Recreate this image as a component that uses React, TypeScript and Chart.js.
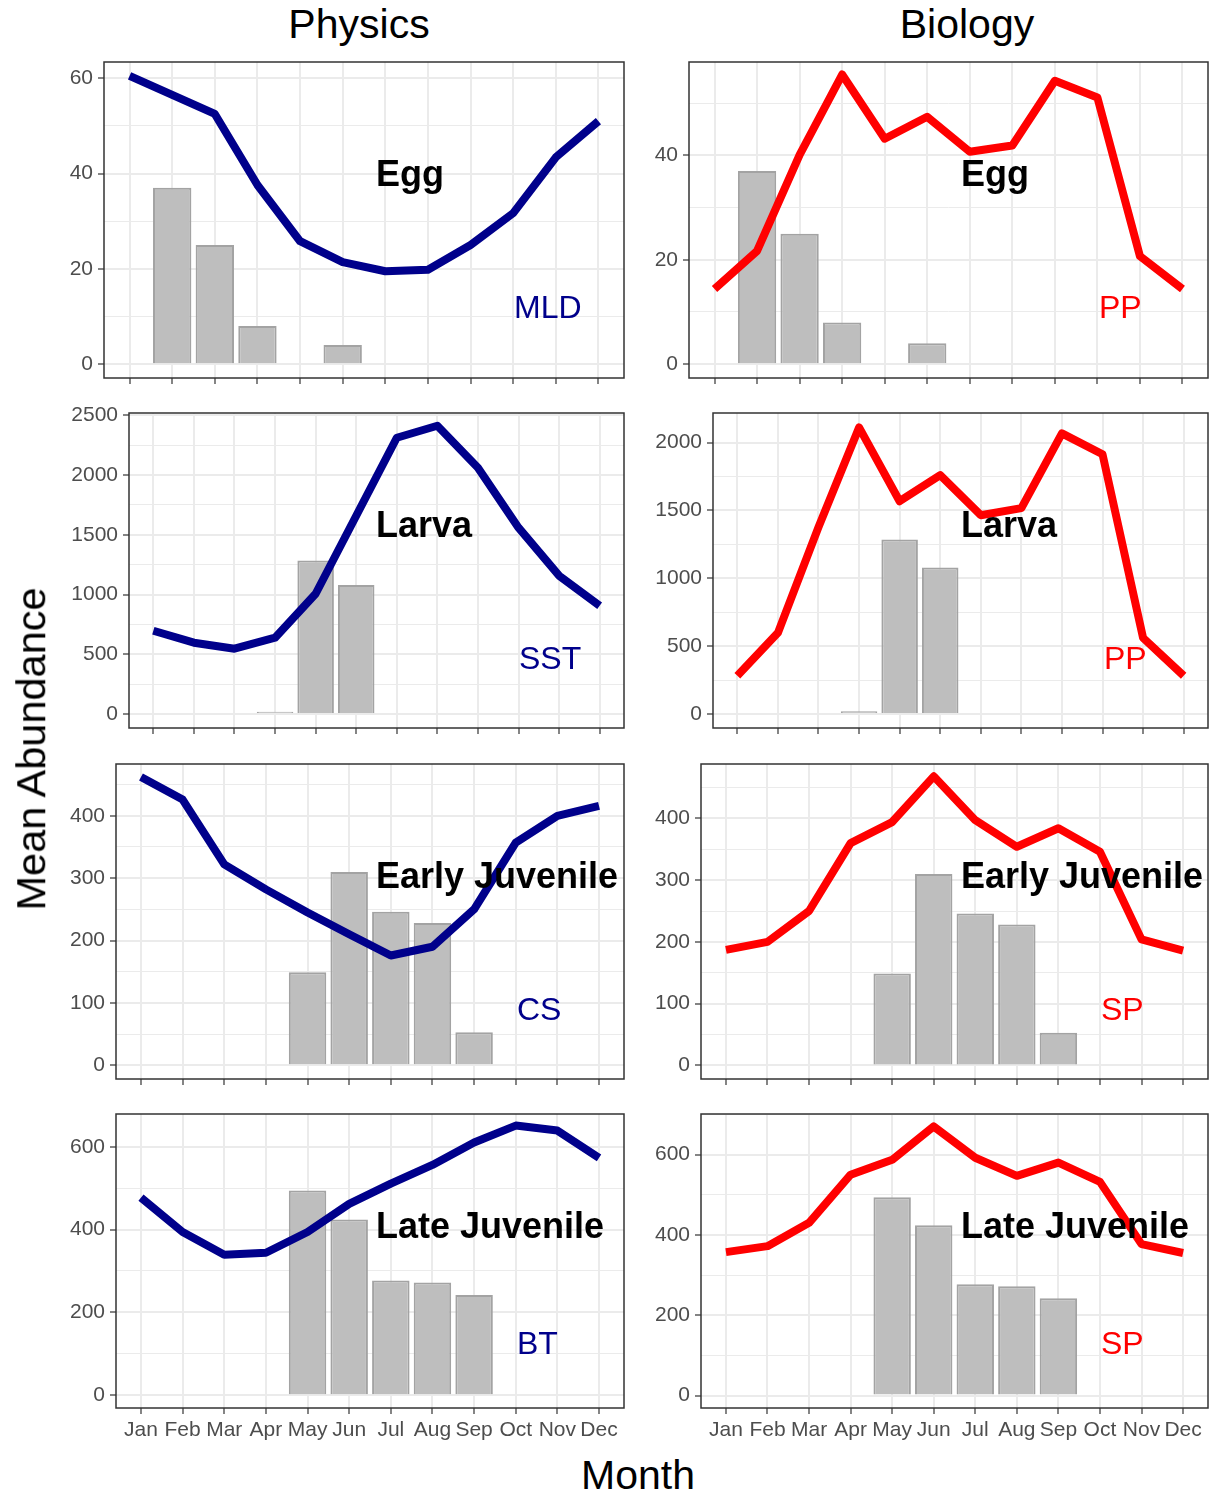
import React, { useEffect, useRef } from 'react';
import { Chart, registerables } from 'chart.js';

Chart.register(...registerables);

const FONT = '"Liberation Sans", Arial, Helvetica, sans-serif';
Chart.defaults.font.family = FONT;

// ---------- data ----------
const MONTHS = ['Jan', 'Feb', 'Mar', 'Apr', 'May', 'Jun', 'Jul', 'Aug', 'Sep', 'Oct', 'Nov', 'Dec'];
const MONTH_NUM = [1, 2, 3, 4, 5, 6, 7, 8, 9, 10, 11, 12];

// environmental drivers (lines)
const MLD = [60.5, 56.5, 52.5, 37.6, 25.8, 21.4, 19.5, 19.8, 25.0, 31.7, 43.4, 51.0];
const PP_EGG = [14.4, 21.7, 40.1, 55.5, 43.2, 47.4, 40.7, 41.9, 54.3, 51.1, 20.7, 14.4];
const SST = [697, 597, 547, 639, 1007, 1660, 2313, 2413, 2062, 1560, 1158, 907];
const PP_LARVA = [282, 598, 1377, 2112, 1568, 1760, 1465, 1517, 2068, 1914, 561, 282];
const CS = [462, 426, 322, 282, 245, 210, 176, 190, 250, 357, 400, 416];
const SP_EARLY = [187, 200, 250, 360, 394, 468, 397, 354, 384, 346, 204, 186];
const BT = [477, 394, 339, 344, 394, 462, 511, 556, 610, 651, 639, 573];
const SP_LATE = [357, 372, 430, 550, 587, 670, 592, 547, 580, 532, 377, 355];

// mean abundance (bars)
const EGG_ABUND = [null, 37, 25, 8, null, 4, null, null, null, null, null, null];
const LARVA_ABUND = [null, null, null, 20, 1285, 1080, null, null, null, null, null, null];
const EARLY_ABUND = [null, null, null, null, 149, 310, 246, 228, 53, null, null, null];
const LATE_ABUND = [null, null, null, null, 494, 424, 277, 272, 242, null, null, null];

// y-axis major ticks
const TICKS_MLD = [0, 20, 40, 60];
const TICKS_PP_EGG = [0, 20, 40];
const TICKS_SST = [0, 500, 1000, 1500, 2000, 2500];
const TICKS_PP_LARVA = [0, 500, 1000, 1500, 2000];
const TICKS_EARLY = [0, 100, 200, 300, 400];
const TICKS_LATE = [0, 200, 400, 600];

const STAGES = ['Egg', 'Larva', 'Early Juvenile', 'Late Juvenile'];
const PHYS_VARS = ['MLD', 'SST', 'CS', 'BT'];
const BIO_VARS = ['PP', 'PP', 'SP', 'SP'];

// ---------- styling / layout ----------
const NAVY = '#00008B';
const RED = '#FF0000';
const Y_AXIS_W = 80;
const PAD_TOP = 14;
const PAD_RIGHT = 1;
const TICK_FONT = 21;

const PANELS = [
  { line: MLD, bars: EGG_ABUND, color: NAVY, left: 104, right: 624, top: 62, bottom: 378, yMin: -2.9, yMax: 63.4, majors: TICKS_MLD, step: 20, showX: false },
  { line: PP_EGG, bars: EGG_ABUND, color: RED, left: 689, right: 1208, top: 62, bottom: 378, yMin: -2.65, yMax: 57.9, majors: TICKS_PP_EGG, step: 20, showX: false },
  { line: SST, bars: LARVA_ABUND, color: NAVY, left: 129, right: 624, top: 413, bottom: 728, yMin: -117, yMax: 2520, majors: TICKS_SST, step: 500, showX: false },
  { line: PP_LARVA, bars: LARVA_ABUND, color: RED, left: 713, right: 1208, top: 413, bottom: 728, yMin: -103, yMax: 2218, majors: TICKS_PP_LARVA, step: 500, showX: false },
  { line: CS, bars: EARLY_ABUND, color: NAVY, left: 116, right: 624, top: 764, bottom: 1079, yMin: -22, yMax: 483, majors: TICKS_EARLY, step: 100, showX: false },
  { line: SP_EARLY, bars: EARLY_ABUND, color: RED, left: 701, right: 1208, top: 764, bottom: 1079, yMin: -22, yMax: 488, majors: TICKS_EARLY, step: 100, showX: false },
  { line: BT, bars: LATE_ABUND, color: NAVY, left: 116, right: 624, top: 1114, bottom: 1408, yMin: -31, yMax: 679, majors: TICKS_LATE, step: 200, showX: true },
  { line: SP_LATE, bars: LATE_ABUND, color: RED, left: 701, right: 1208, top: 1114, bottom: 1408, yMin: -31, yMax: 701, majors: TICKS_LATE, step: 200, showX: true },
];

const STAGE_POS = [
  { x: 376, y: 186 },
  { x: 376, y: 537 },
  { x: 376, y: 888 },
  { x: 376, y: 1238 },
];
const BIO_SHIFT = 585;
const PHYS_VAR_POS = [
  { x: 514, y: 318 },
  { x: 519, y: 669 },
  { x: 517, y: 1020 },
  { x: 517, y: 1354 },
];
const BIO_VAR_POS = [
  { x: 1099, y: 318 },
  { x: 1104, y: 669 },
  { x: 1101, y: 1020 },
  { x: 1101, y: 1354 },
];

const borderPlugin = {
  id: 'panelBorder',
  afterDatasetsDraw(chart: any) {
    const { ctx, chartArea: a } = chart;
    ctx.save();
    ctx.strokeStyle = '#333333';
    ctx.lineWidth = 1.5;
    ctx.strokeRect(a.left, a.top, a.right - a.left, a.bottom - a.top);
    ctx.restore();
  },
};

function Panel({ p }: { p: any }) {
  const ref = useRef<HTMLCanvasElement>(null);
  const xh = p.showX ? 44 : 20;
  const cl = p.left - Y_AXIS_W;
  const ct = p.top - PAD_TOP;
  const cw = p.right + PAD_RIGHT - cl;
  const ch = p.bottom + xh - ct;

  useEffect(() => {
    const half = p.step / 2;
    const cand: number[] = [...p.majors];
    p.majors.forEach((v: number) => cand.push(v - half, v + half));
    const yVals = Array.from(new Set(cand))
      .filter((v) => v >= p.yMin && v <= p.yMax)
      .sort((a, b) => a - b);
    const isMajor = (v: number) => p.majors.includes(v);

    const chart = new Chart(ref.current as HTMLCanvasElement, {
      type: 'bar',
      data: {
        datasets: [
          {
            type: 'line',
            data: p.line.map((v: number, i: number) => ({ x: MONTH_NUM[i], y: v })),
            borderColor: p.color,
            backgroundColor: p.color,
            borderWidth: 8,
            pointRadius: 0,
            borderJoinStyle: 'round',
            borderCapStyle: 'butt',
            tension: 0,
            order: 0,
          } as any,
          {
            type: 'bar',
            data: p.bars.map((v: number | null, i: number) => ({ x: MONTH_NUM[i], y: v })),
            backgroundColor: '#BEBEBE',
            borderColor: '#A3A3A3',
            borderWidth: 2,
            barPercentage: 0.9,
            categoryPercentage: 1,
            order: 1,
          } as any,
        ],
      },
      options: {
        animation: false,
        responsive: false,
        devicePixelRatio: 1,
        layout: { padding: { top: PAD_TOP, right: PAD_RIGHT, bottom: 0, left: 0 } },
        plugins: { legend: { display: false }, tooltip: { enabled: false } },
        scales: {
          x: {
            type: 'linear',
            min: 0.4,
            max: 12.6,
            offset: false,
            afterBuildTicks: (axis: any) => {
              axis.ticks = MONTH_NUM.map((v) => ({ value: v }));
            },
            afterFit: (s: any) => {
              s.height = xh;
              s.paddingLeft = 0;
              s.paddingRight = 0;
            },
            ticks: {
              autoSkip: false,
              maxRotation: 0,
              minRotation: 0,
              padding: 4,
              color: '#4D4D4D',
              font: { size: TICK_FONT, family: FONT },
              callback: (_v: any, i: number) => (p.showX ? MONTHS[i] : ''),
            },
            grid: {
              offset: false,
              color: '#EBEBEB',
              lineWidth: 2,
              tickColor: '#333333',
              tickWidth: 1.2,
              tickLength: 6,
              drawTicks: true,
              drawOnChartArea: true,
            },
            border: { display: false },
          },
          y: {
            type: 'linear',
            min: p.yMin,
            max: p.yMax,
            afterBuildTicks: (axis: any) => {
              axis.ticks = yVals.map((v) => ({ value: v }));
            },
            afterFit: (s: any) => {
              s.width = Y_AXIS_W;
              s.paddingTop = 0;
              s.paddingBottom = 0;
            },
            ticks: {
              autoSkip: false,
              padding: 5,
              color: '#4D4D4D',
              font: { size: TICK_FONT, family: FONT },
              callback: (v: any) => (isMajor(Number(v)) ? String(v) : ''),
            },
            grid: {
              color: '#EBEBEB',
              lineWidth: (c: any) => (c.tick && !isMajor(c.tick.value) ? 1 : 2),
              tickColor: (c: any) => (c.tick && !isMajor(c.tick.value) ? 'rgba(0,0,0,0)' : '#333333'),
              tickWidth: 1.2,
              tickLength: 6,
              drawTicks: true,
              drawOnChartArea: true,
            },
            border: { display: false },
          },
        },
      } as any,
      plugins: [borderPlugin],
    });
    return () => chart.destroy();
  }, []);

  return (
    <canvas
      ref={ref}
      width={cw}
      height={ch}
      style={{ position: 'absolute', left: cl, top: ct, width: cw, height: ch }}
    />
  );
}

function Txt({ text, x, y, size, weight = 400, color = '#000', align = 'left' }: any) {
  const top = y - 0.8465 * size;
  const tx = align === 'center' ? 'translateX(-50%)' : 'none';
  return (
    <div
      style={{
        position: 'absolute',
        left: x,
        top,
        fontFamily: FONT,
        fontSize: size,
        fontWeight: weight,
        lineHeight: 1,
        color,
        whiteSpace: 'nowrap',
        transform: tx,
      }}
    >
      {text}
    </div>
  );
}

export default function App() {
  return (
    <div
      style={{
        position: 'absolute',
        left: 0,
        top: 0,
        width: 1209,
        height: 1493,
        background: '#ffffff',
        overflow: 'hidden',
      }}
    >
      {PANELS.map((p, i) => (
        <Panel key={i} p={p} />
      ))}
      <Txt text="Physics" x={359} y={39} size={41} align="center" />
      <Txt text="Biology" x={967} y={39} size={41} align="center" />
      <Txt text="Month" x={638} y={1490} size={41} align="center" />
      <div
        style={{
          position: 'absolute',
          left: 31,
          top: 749,
          fontFamily: FONT,
          fontSize: 41.5,
          lineHeight: 1,
          color: '#000',
          whiteSpace: 'nowrap',
          transform: 'translate(-50%, -50%) rotate(-90deg)',
        }}
      >
        Mean Abundance
      </div>
      {STAGES.map((s, i) => (
        <React.Fragment key={'s' + i}>
          <Txt text={s} x={STAGE_POS[i].x} y={STAGE_POS[i].y} size={36} weight={700} />
          <Txt text={s} x={STAGE_POS[i].x + BIO_SHIFT} y={STAGE_POS[i].y} size={36} weight={700} />
        </React.Fragment>
      ))}
      {PHYS_VARS.map((s, i) => (
        <Txt key={'p' + i} text={s} x={PHYS_VAR_POS[i].x} y={PHYS_VAR_POS[i].y} size={32} color={NAVY} />
      ))}
      {BIO_VARS.map((s, i) => (
        <Txt key={'b' + i} text={s} x={BIO_VAR_POS[i].x} y={BIO_VAR_POS[i].y} size={32} color={RED} />
      ))}
    </div>
  );
}
